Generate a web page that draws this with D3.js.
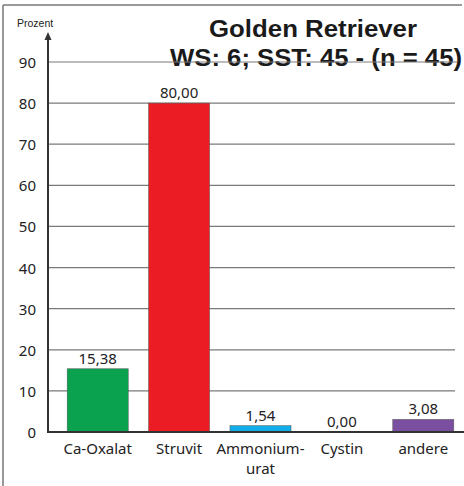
<!DOCTYPE html>
<html>
<head>
<meta charset="utf-8">
<script src="https://cdn.jsdelivr.net/npm/d3@7"></script>
<style>
  body { margin: 0; background: #fff; }
  svg { display: block; }
</style>
</head>
<body>
<div id="chart"></div>
<script>
// chart data
var categories = ['Ca-Oxalat', 'Struvit', 'Ammonium-urat', 'Cystin', 'andere'];
var labelLines = [['Ca-Oxalat'], ['Struvit'], ['Ammonium-', 'urat'], ['Cystin'], ['andere']];
var values = [15.38, 80.00, 1.54, 0.00, 3.08];
var barColors = ['#0aa14f', '#ec1c24', '#10aee8', '#d0d0d0', '#7a4f9f'];
var yTicks = [0, 10, 20, 30, 40, 50, 60, 70, 80, 90];
var titleLines = ['Golden Retriever', 'WS: 6; SST: 45 - (n = 45)'];

var width = 464;
var height = 486;

var de = d3.formatLocale({ decimal: ',', thousands: '.', grouping: [3], currency: ['', ' €'] });
var fmt = de.format('.2f');

var svg = d3.select('#chart')
  .append('svg')
  .attr('width', width)
  .attr('height', height);

// frame (top + left only)
svg.append('line')
  .attr('x1', 3).attr('x2', 462)
  .attr('y1', 5).attr('y2', 5)
  .attr('stroke', '#9a9a9a').attr('stroke-width', 2);
svg.append('line')
  .attr('x1', 3).attr('x2', 3)
  .attr('y1', 5).attr('y2', height)
  .attr('stroke', '#777').attr('stroke-width', 1.5);

var x = d3.scaleBand()
  .domain(categories)
  .range([57, 464])
  .paddingInner(0.25)
  .paddingOuter(0.125);

var y = d3.scaleLinear()
  .domain([0, 90])
  .range([432, 62]);

// title
svg.selectAll('.title')
  .data(titleLines)
  .enter()
  .append('text')
    .attr('class', 'title')
    .attr('x', function(d, i) { return i === 0 ? 209 : 170; })
    .attr('y', function(d, i) { return i === 0 ? 37 : 66; })
    .attr('textLength', function(d, i) { return i === 0 ? 208 : 292; })
    .attr('lengthAdjust', 'spacingAndGlyphs')
    .style('font-family', '"Liberation Sans", Arial, sans-serif')
    .style('font-weight', 'bold')
    .style('font-size', '24px')
    .style('fill', '#1a1a1a')
    .text(function(d) { return d; });

// gridlines
svg.selectAll('.grid')
  .data(yTicks.filter(function(d) { return d > 0; }))
  .enter()
  .append('line')
    .attr('class', 'grid')
    .attr('x1', 48)
    .attr('x2', function(d) { return d === 90 ? 457 : 455; })
    .attr('y1', function(d) { return y(d); })
    .attr('y2', function(d) { return y(d); })
    .attr('stroke', '#7a7a7a')
    .attr('stroke-width', 1.2);

// y tick labels
svg.selectAll('.ytick')
  .data(yTicks)
  .enter()
  .append('text')
    .attr('class', 'ytick')
    .attr('x', 36)
    .attr('y', function(d) { return y(d) + 6; })
    .attr('text-anchor', 'end')
    .style('font-family', '"Noto Sans", sans-serif')
    .style('font-size', '15px')
    .style('fill', '#222')
    .text(function(d) { return d; });

// bars
svg.selectAll('.bar')
  .data(values)
  .enter()
  .append('rect')
    .attr('class', 'bar')
    .attr('x', function(d, i) { return x(categories[i]); })
    .attr('y', function(d) { return y(d); })
    .attr('width', x.bandwidth())
    .attr('height', function(d) { return y(0) - y(d); })
    .attr('fill', function(d, i) { return barColors[i]; })
    .attr('stroke', function(d) { return d > 0 ? '#555' : 'none'; })
    .attr('stroke-width', 0.5);

// value labels
svg.selectAll('.val')
  .data(values)
  .enter()
  .append('text')
    .attr('class', 'val')
    .attr('x', function(d, i) { return x(categories[i]) + x.bandwidth() / 2; })
    .attr('y', function(d) { return y(d) - 5; })
    .attr('text-anchor', 'middle')
    .style('font-family', '"Noto Sans", sans-serif')
    .style('font-size', '15px')
    .style('fill', '#222')
    .text(function(d) { return fmt(d); });

// axes
svg.append('line')
  .attr('x1', 48).attr('x2', 464)
  .attr('y1', y(0)).attr('y2', y(0))
  .attr('stroke', '#333').attr('stroke-width', 2);
svg.append('line')
  .attr('x1', 48).attr('x2', 48)
  .attr('y1', y(0) + 1).attr('y2', 36)
  .attr('stroke', '#333').attr('stroke-width', 2);
svg.append('path')
  .attr('d', 'M48,32 L44.5,40 L51.5,40 Z')
  .attr('fill', '#333');

svg.append('text')
  .attr('x', 17)
  .attr('y', 27)
  .style('font-family', '"Liberation Sans", Arial, sans-serif')
  .style('font-size', '10.5px')
  .style('fill', '#222')
  .text('Prozent');

// category labels
var cats = svg.selectAll('.cat')
  .data(labelLines)
  .enter()
  .append('text')
    .attr('class', 'cat')
    .attr('text-anchor', 'middle')
    .style('font-family', '"Noto Sans", sans-serif')
    .style('font-size', '15px')
    .style('fill', '#222');

cats.selectAll('tspan')
  .data(function(d, i) { return d.map(function(t) { return { t: t, i: i }; }); })
  .enter()
  .append('tspan')
    .attr('x', function(d) { return x(categories[d.i]) + x.bandwidth() / 2; })
    .attr('y', function(d, j) { return 454 + j * 20; })
    .text(function(d) { return d.t; });
</script>
</body>
</html>
